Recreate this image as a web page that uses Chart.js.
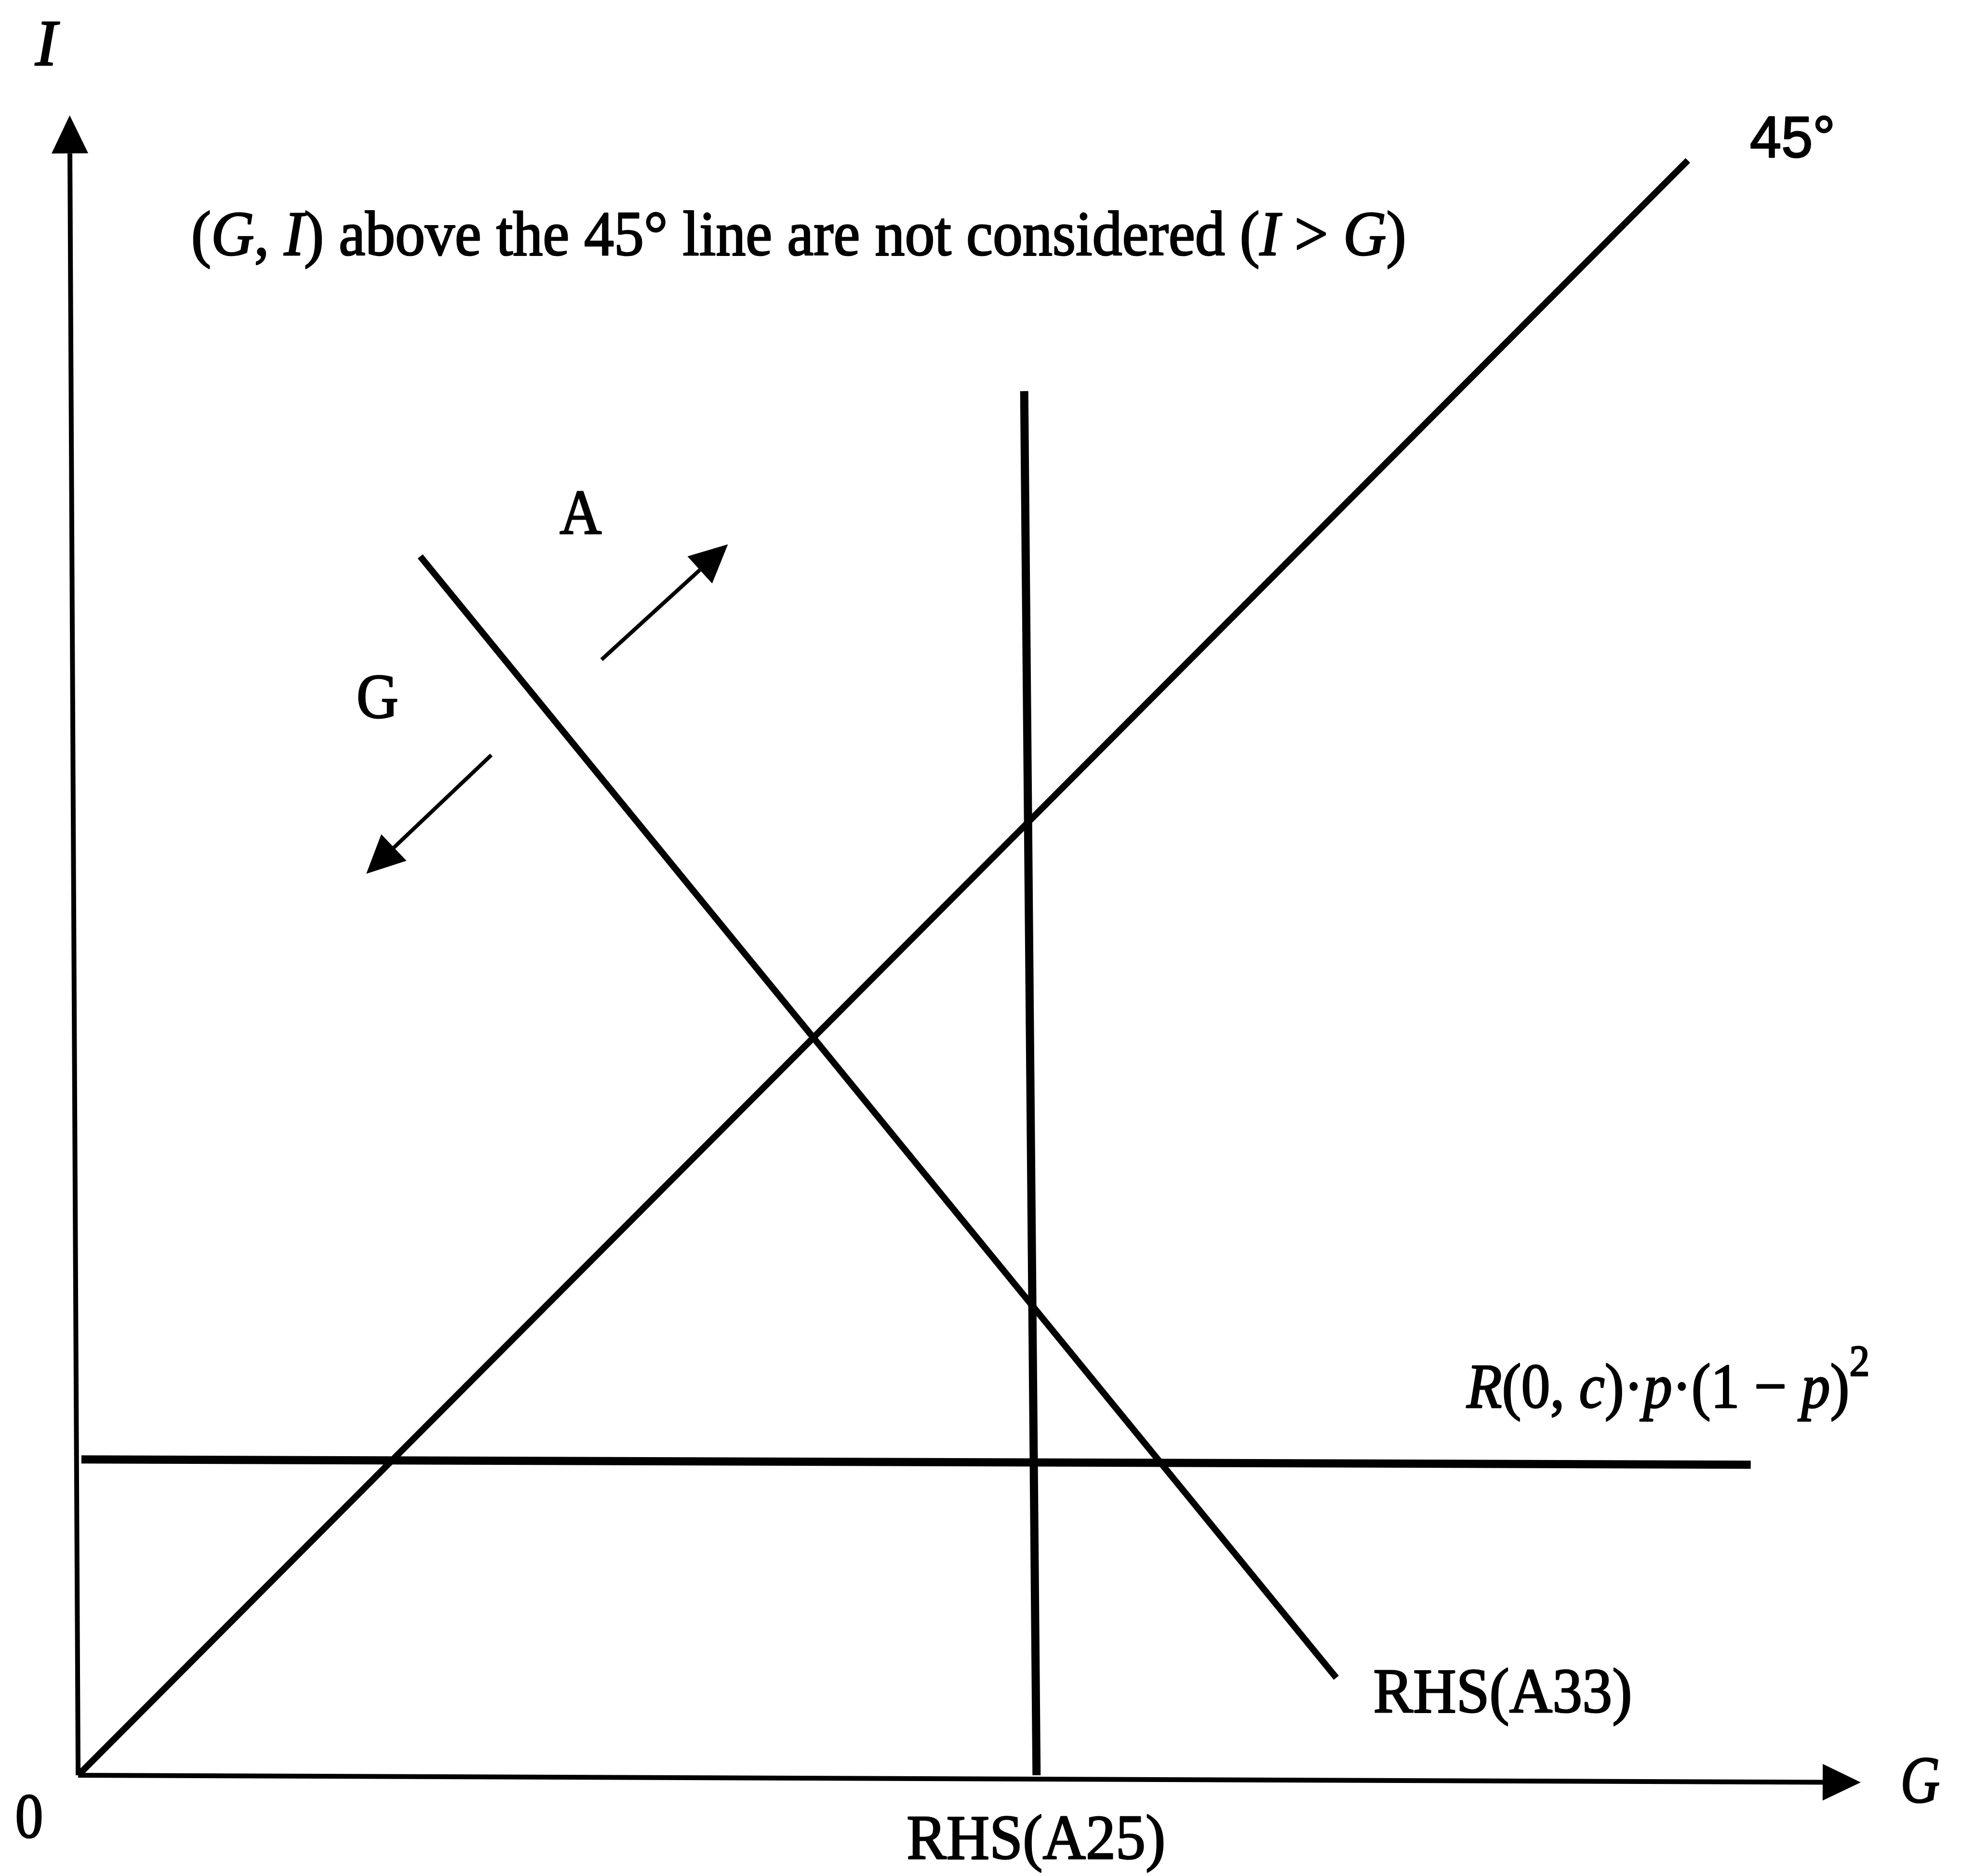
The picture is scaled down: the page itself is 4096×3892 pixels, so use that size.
<!DOCTYPE html>
<html><head><meta charset="utf-8">
<script src="https://cdn.jsdelivr.net/npm/chart.js@4/dist/chart.umd.min.js"></script>
<style>html,body{margin:0;padding:0;background:#fff;overflow:hidden}canvas{display:block}</style>
</head><body>
<canvas id="c" width="4096" height="3892"></canvas>
<script>
// ---- values (G on the horizontal axis, I on the vertical; origin = 0) ----
const xAxisG  = [0, 42.43];
const xAxisI  = [0, -0.17];
const yAxisG  = [0, -0.20];
const yAxisI  = [0, 39.44];
const line45G = [0, 39.15];
const line45I = [0, 39.27];
const rhsA33G = [8.32, 30.60];
const rhsA33I = [29.64, 2.37];
const rhsA25G = [23.01, 23.31];
const rhsA25I = [33.66, 0];
const rLevelG = [0.08, 40.68];
const rLevelI = [7.68, 7.55];
const arrowAG = [12.73, 15.12];
const arrowAI = [27.13, 29.31];
const arrowGG = [10.05, 7.68];
const arrowGI = [24.81, 22.56];
const gRange  = [-1.90, 46.11];
const iRange  = [-2.45, 43.17];

// ---- text labels (anchor = left end of baseline, in G/I units) ----
const labelTexts = {
  yName: [['I','i']],
  note: [['(',''],['G','i'],[', ',''],['I','i'],[') above the 45° line are not considered (',''],['I','i'],[' > ',''],['G','i'],[')','']],
  deg: [['45°','']],
  A: [['A','']],
  G: [['G','']],
  R: [['R','i'],['(0, ',''],['c','i'],[')·',''],['p','i'],['·(1 − ',''],['p','i'],[')',''],['2','sup']],
  a33: [['RHS(A33)','']],
  a25: [['RHS(A25)','']],
  xName: [['G','i']],
  zero: [['0','']]
};
const labelPlace = [
  {k:'yName', g:-1.04, i:41.59, size:135},
  {k:'note',  g:2.75,  i:36.97, size:132, w:2521},
  {k:'deg',   g:40.66, i:39.35, size:120, w:177, sans:true},
  {k:'A',     g:11.71, i:30.19, size:132, w:87},
  {k:'G',     g:6.77,  i:25.72, size:132, w:87},
  {k:'R',     g:33.77, i:8.94,  size:132, w:836},
  {k:'a33',   g:31.50, i:1.54,  size:132, w:537},
  {k:'a25',   g:20.15, i:-2.03, size:132, w:537},
  {k:'xName', g:44.32, i:-0.66, size:137, w:82},
  {k:'zero',  g:-1.53, i:-1.51, size:132, w:58}
];

const pts = (g, i) => g.map((v, k) => ({x: v, y: i[k]}));
function ds(g, i, w, head) {
  return {data: pts(g, i), borderColor: '#000', backgroundColor: '#000', borderWidth: w,
    borderCapStyle: 'butt', pointRadius: 0, pointHoverRadius: 0, showLine: true, fill: false,
    tension: 0, clip: false, arrowHead: head || false};
}

const arrowPlugin = {
  id: 'arrowHeads',
  afterDatasetsDraw(chart) {
    const ctx = chart.ctx;
    chart.data.datasets.forEach((d, idx) => {
      if (!d.arrowHead) return;
      const pts = chart.getDatasetMeta(idx).data;
      const a = pts[pts.length - 2], b = pts[pts.length - 1];
      let dx = b.x - a.x, dy = b.y - a.y;
      const len = Math.hypot(dx, dy); dx /= len; dy /= len;
      const L = 79, W = 76;
      ctx.save();
      ctx.fillStyle = '#000';
      ctx.beginPath();
      ctx.moveTo(b.x + dx * L, b.y + dy * L);
      ctx.lineTo(b.x - dy * W / 2, b.y + dx * W / 2);
      ctx.lineTo(b.x + dy * W / 2, b.y - dx * W / 2);
      ctx.closePath();
      ctx.fill();
      ctx.restore();
    });
  }
};

const textPlugin = {
  id: 'textLabels',
  afterDraw(chart) {
    const ctx = chart.ctx, sx = chart.scales.x, sy = chart.scales.y;
    labelPlace.forEach(p => {
      const segs = labelTexts[p.k];
      const fam = p.sans ? '"Liberation Sans", Arial, sans-serif' : '"Liberation Serif", "Times New Roman", serif';
      const fontOf = s => s[1] === 'sup' ? `${Math.round(p.size * 0.7)}px ${fam}`
                        : `${s[1] === 'i' ? 'italic ' : ''}${p.size}px ${fam}`;
      ctx.save();
      let total = 0;
      const widths = segs.map(s => { ctx.font = fontOf(s); const w = ctx.measureText(s[0]).width; total += w; return w; });
      const scale = p.w ? p.w / total : 1;
      ctx.translate(sx.getPixelForValue(p.g), sy.getPixelForValue(p.i));
      ctx.scale(scale, 1);
      ctx.fillStyle = '#000';
      ctx.strokeStyle = '#000';
      ctx.lineWidth = 3;
      ctx.lineJoin = 'round';
      ctx.textBaseline = 'alphabetic';
      ctx.textAlign = 'left';
      let x = 0;
      segs.forEach((s, k) => {
        ctx.font = fontOf(s);
        const y = s[1] === 'sup' ? -p.size * 0.5 : 0;
        ctx.fillText(s[0], x, y);
        ctx.strokeText(s[0], x, y);
        x += widths[k];
      });
      ctx.restore();
    });
  }
};

new Chart(document.getElementById('c'), {
  type: 'scatter',
  data: {
    datasets: [
      ds(xAxisG, xAxisI, 10, true),
      ds(yAxisG, yAxisI, 10, true),
      ds(line45G, line45I, 13.5),
      ds(rhsA33G, rhsA33I, 13.5),
      ds(rhsA25G, rhsA25I, 17),
      ds(rLevelG, rLevelI, 17),
      ds(arrowAG, arrowAI, 8, true),
      ds(arrowGG, arrowGI, 8, true)
    ]
  },
  options: {
    responsive: false,
    animation: false,
    devicePixelRatio: 1,
    layout: {padding: 0},
    events: [],
    plugins: {legend: {display: false}, tooltip: {enabled: false}},
    scales: {
      x: {type: 'linear', min: gRange[0], max: gRange[1], display: false},
      y: {type: 'linear', min: iRange[0], max: iRange[1], display: false}
    }
  },
  plugins: [arrowPlugin, textPlugin]
});
</script>
</body></html>
